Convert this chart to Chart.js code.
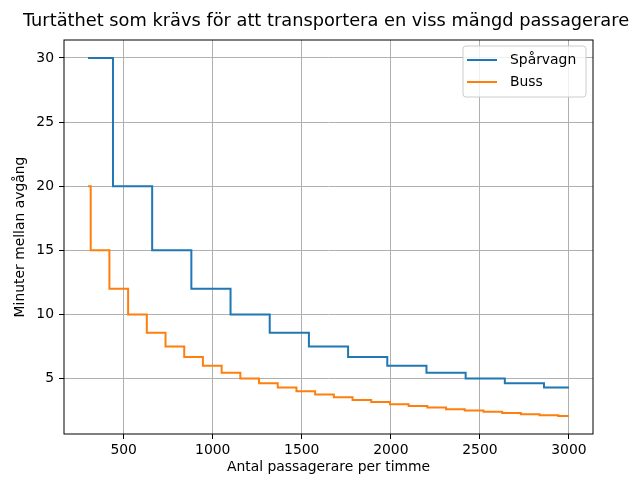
<!DOCTYPE html>
<html>
<head>
<meta charset="utf-8">
<script src="https://cdn.jsdelivr.net/npm/chart.js@4"></script>
<style>html,body{margin:0;padding:0;background:#fff}</style>
</head>
<body>
<canvas id="chart" width="632" height="477"></canvas>
<script>
const TITLE = 'Turtäthet som krävs för att transportera en viss mängd passagerare';
const X_LABEL = 'Antal passagerare per timme';
const Y_LABEL = 'Minuter mellan avgång';

const tramPassengers = [300, 440, 660, 880, 1100, 1320, 1540, 1760, 1980, 2200, 2420, 2640, 2860, 3000];
const tramHeadway = [30, 20, 15, 12, 10, 8.57, 7.5, 6.67, 6, 5.45, 5, 4.62, 4.29, 4.29];
const busPassengers = [300, 315, 420, 525, 630, 735, 840, 945, 1050, 1155, 1260, 1365, 1470, 1575,
  1680, 1785, 1890, 1995, 2100, 2205, 2310, 2415, 2520, 2625, 2730, 2835, 2940, 3000];
const busHeadway = [20, 15, 12, 10, 8.57, 7.5, 6.67, 6, 5.45, 5, 4.62, 4.29, 4, 3.75,
  3.53, 3.33, 3.16, 3, 2.86, 2.73, 2.61, 2.5, 2.4, 2.31, 2.22, 2.14, 2.07, 2.07];
const xTicks = [500, 1000, 1500, 2000, 2500, 3000];
const yTicks = [5, 10, 15, 20, 25, 30];

const FONT = 'DejaVu Sans';
const toPoints = (xs, ys) => xs.map((x, i) => ({ x, y: ys[i] }));

Chart.defaults.font.family = FONT;
Chart.defaults.color = '#000';

// titel, ram och legend ritas som i matplotlib
const framePlugin = {
  id: 'frame',
  afterDraw(chart) {
    const { ctx, chartArea: a } = chart;
    ctx.save();
    ctx.strokeStyle = '#000';
    ctx.lineWidth = 1;
    ctx.strokeRect(a.left, a.top, a.right - a.left, a.bottom - a.top);

    ctx.font = '17.8px ' + FONT;
    ctx.textAlign = 'center';
    ctx.textBaseline = 'middle';
    ctx.fillStyle = '#000';
    ctx.fillText(TITLE, 326, 21);

    // legend
    const x = 463, y = 46, w = 123, h = 51;
    ctx.beginPath();
    ctx.roundRect(x, y, w, h, 3);
    ctx.fillStyle = 'rgba(255,255,255,0.8)';
    ctx.fill();
    ctx.strokeStyle = '#cccccc';
    ctx.stroke();
    ctx.font = '13.9px ' + FONT;
    ctx.textAlign = 'left';
    chart.data.datasets.forEach((ds, i) => {
      const ly = y + 14 + i * 22;
      ctx.strokeStyle = ds.borderColor;
      ctx.lineWidth = 2;
      ctx.beginPath();
      ctx.moveTo(x + 4, ly);
      ctx.lineTo(x + 34, ly);
      ctx.stroke();
      ctx.fillStyle = '#000';
      ctx.fillText(ds.label, x + 47, ly);
    });
    ctx.restore();
  },
};

new Chart(document.getElementById('chart'), {
  type: 'line',
  data: {
    datasets: [
      {
        label: 'Spårvagn',
        data: toPoints(tramPassengers, tramHeadway),
        borderColor: '#1f77b4',
        borderWidth: 2,
        pointRadius: 0,
        stepped: 'before',
      },
      {
        label: 'Buss',
        data: toPoints(busPassengers, busHeadway),
        borderColor: '#ff7f0e',
        borderWidth: 2,
        pointRadius: 0,
        stepped: 'before',
      },
    ],
  },
  options: {
    responsive: false,
    animation: false,
    layout: { padding: { left: 0, right: 39, top: 40, bottom: 0 } },
    plugins: { legend: { display: false }, tooltip: { enabled: false } },
    scales: {
      x: {
        type: 'linear',
        min: 165,
        max: 3135,
        afterBuildTicks: s => { s.ticks = xTicks.map(value => ({ value })); },
        afterFit: s => { s.height = 43; },
        grid: { color: '#b0b0b0', lineWidth: 1, tickLength: 5, tickColor: '#000' },
        border: { display: false },
        ticks: { font: { size: 13.9 }, padding: 3, maxRotation: 0, callback: v => String(v) },
        title: { display: true, text: X_LABEL, font: { size: 13.9 }, padding: { top: 0, bottom: 1 } },
      },
      y: {
        min: 0.67,
        max: 31.4,
        afterBuildTicks: s => { s.ticks = yTicks.map(value => ({ value })); },
        afterFit: s => { s.width = 64; },
        grid: { color: '#b0b0b0', lineWidth: 1, tickLength: 5, tickColor: '#000' },
        border: { display: false },
        ticks: { font: { size: 13.9 }, padding: 5, callback: v => String(v) },
        title: { display: true, text: Y_LABEL, font: { size: 13.9 }, padding: { top: 12, bottom: 0 } },
      },
    },
  },
  plugins: [framePlugin],
});
</script>
</body>
</html>
